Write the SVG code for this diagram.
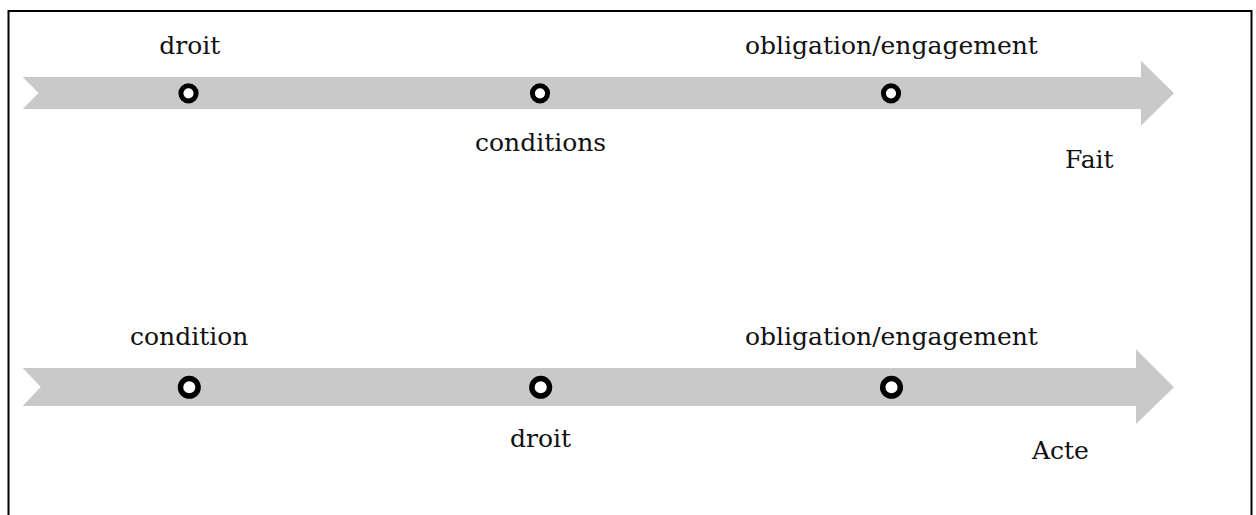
<svg xmlns="http://www.w3.org/2000/svg" width="1256" height="515" viewBox="0 0 1256 515">
<style>
.lbl{font-family:"DejaVu Serif","Liberation Serif",serif;font-size:25px;fill:#111}
.arrow{fill:#c9c9c9}
.dot{fill:#fff;stroke:#000;stroke-width:5}
.frame{fill:none;stroke:#000;stroke-width:2}
</style>
<rect width="1256" height="515" fill="#fff"/>
<path class="frame" d="M8.5 516 V11 H1251.5 V516"/>
<g id="connectors">
<path id="arrow-fait" class="arrow" d="M22.7 77 H1141 V60.7 L1174 93.3 L1141 125.7 V109 H22.7 L38.5 93 Z"/>
<path id="arrow-acte" class="arrow" d="M22.7 368 H1136 V349.3 L1174 387.3 L1136 424 V406 H22.7 L40.7 387 Z"/>
</g>
<g id="row1">
<g id="n1-droit"><circle class="dot" cx="188.5" cy="93.3" r="7.6"/><text class="lbl" x="159.3" y="54">droit</text></g>
<g id="n1-conditions"><circle class="dot" cx="540" cy="93.3" r="7.6"/><text class="lbl" x="475" y="151">conditions</text></g>
<g id="n1-obligation"><circle class="dot" cx="891" cy="93.3" r="7.6"/><text class="lbl" x="745" y="54">obligation/engagement</text></g>
<g id="n1-fait"><text class="lbl" x="1065" y="168">Fait</text></g>
</g>
<g id="row2">
<g id="n2-condition"><circle class="dot" cx="189.3" cy="387.3" r="8.8" style="stroke-width:5.5"/><text class="lbl" x="130" y="345">condition</text></g>
<g id="n2-droit"><circle class="dot" cx="540.7" cy="387.3" r="8.8" style="stroke-width:5.5"/><text class="lbl" x="510" y="447">droit</text></g>
<g id="n2-obligation"><circle class="dot" cx="891.5" cy="387.3" r="8.8" style="stroke-width:5.5"/><text class="lbl" x="745" y="345">obligation/engagement</text></g>
<g id="n2-acte"><text class="lbl" x="1032" y="459">Acte</text></g>
</g>
</svg>
